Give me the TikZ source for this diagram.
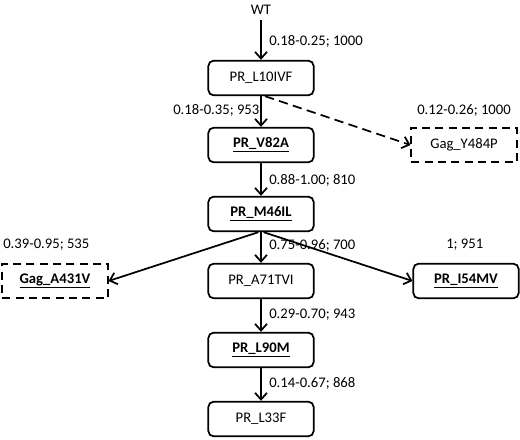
\documentclass[tikz,border=0pt]{standalone}
\usepackage{fontspec}
\setmainfont{Carlito}
\usetikzlibrary{arrows.meta}
\newcommand{\mut}[1]{\underline{\textbf{#1}}}

\begin{document}
\begin{tikzpicture}[x=0.75pt,y=-0.75pt,
   box/.style={draw,line width=1.3pt,rounded corners=4pt,minimum width=79pt,
      minimum height=26pt,inner sep=0pt,font=\fontsize{11}{13}\selectfont},
   dbox/.style={box,rounded corners=0pt,dash pattern=on 6pt off 4pt},
   lbl/.style={anchor=west,inner sep=0pt,font=\fontsize{11}{13}\selectfont},
   arr/.style={line width=1.3pt,-{Straight Barb[length=5pt,width=9pt]}}]
   \useasboundingbox (0,0) rectangle (520,439);
   % nodes
   \node[lbl,anchor=center] (wt) at (261,10) {WT};
   \node[box]  (l10ivf) at (261,78)  {PR\_L10IVF};
   \node[box]  (v82a)   at (261,145) {\mut{PR\_V82A}};
   \node[dbox] (y484p)  at (464,145) {Gag\_Y484P};
   \node[box]  (m46il)  at (261,214) {\mut{PR\_M46IL}};
   \node[dbox] (a431v)  at (55,281)  {\mut{Gag\_A431V}};
   \node[box]  (a71tvi) at (261,281) {PR\_A71TVI};
   \node[box]  (i54mv)  at (466,281) {\mut{PR\_I54MV}};
   \node[box]  (l90m)   at (261,350) {\mut{PR\_L90M}};
   \node[box]  (l33f)   at (261,419) {PR\_L33F};
   % connectors
   \draw[arr] ([yshift=-4pt]wt.south) -- (l10ivf);
   \draw[arr] (l10ivf) -- (v82a);
   \draw[arr,dash pattern=on 7pt off 4pt] ([xshift=3pt]l10ivf.south) -- (y484p.west);
   \draw[arr] (v82a) -- (m46il);
   \draw[arr] ([xshift=-2pt]m46il.south) -- (a431v.east);
   \draw[arr] (m46il) -- (a71tvi);
   \draw[arr] ([xshift=2pt]m46il.south) -- (i54mv.west);
   \draw[arr] (a71tvi) -- (l90m);
   \draw[arr] (l90m) -- (l33f);
   % labels
   \node[lbl] (p1) at (269,41)  {0.18-0.25; 1000};
   \node[lbl] (p2) at (173,110) {0.18-0.35; 953};
   \node[lbl] (p3) at (417,110) {0.12-0.26; 1000};
   \node[lbl] (p4) at (269,180) {0.88-1.00; 810};
   \node[lbl] (p5) at (3,245)   {0.39-0.95; 535};
   \node[lbl] (p6) at (269,245) {0.75-0.96; 700};
   \node[lbl] (p7) at (446,245) {1; 951};
   \node[lbl] (p8) at (269,315) {0.29-0.70; 943};
   \node[lbl] (p9) at (269,383) {0.14-0.67; 868};
\end{tikzpicture}
\end{document}
